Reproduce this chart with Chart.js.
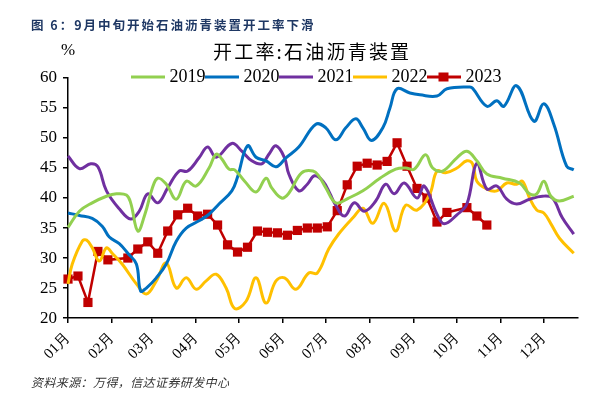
<!DOCTYPE html>
<html>
<head>
<meta charset="utf-8">
<script src="https://cdn.jsdelivr.net/npm/chart.js@4.4.0/dist/chart.umd.min.js"></script>
<style>
  body { margin: 0; background: #fff; }
  #wrap { position: relative; width: 603px; height: 399px; overflow: hidden; }
  #chart { position: absolute; left: 0; top: 0; }
  .txt { position: absolute; white-space: nowrap; }
  #header { left: 31px; top: 15px; font: bold 12.5px "Noto Sans CJK SC"; color: #1F3864; letter-spacing: 2px; }
  #title { left: 213px; top: 40px; font: 19px "Noto Sans CJK SC"; line-height: 22px; color: #000; letter-spacing: 2.2px; }
  #unit { left: 61px; top: 40px; font: 17px "Liberation Serif"; color: #000; }
  #footer { left: 31px; top: 373px; font: italic 12px "Noto Sans CJK SC"; color: #333; letter-spacing: 0.4px; }
</style>
</head>
<body>
<div id="wrap">
  <canvas id="chart" width="603" height="399"></canvas>
  <div class="txt" id="header">图 6：9月中旬开始石油沥青装置开工率下滑</div>
  <div class="txt" id="title">开工率:石油沥青装置</div>
  <div class="txt" id="unit">%</div>
  <div class="txt" id="footer">资料来源：万得，信达证券研发中心</div>
</div>
<script>
// month ticks (day of year)
const monthStarts = [0, 31, 59, 90, 120, 151, 181, 212, 243, 273, 304, 334];
const monthLabels = ['01月', '02月', '03月', '04月', '05月', '06月', '07月', '08月', '09月', '10月', '11月', '12月'];

// series: day of year / value (%)
const days2019 = [0, 8, 17, 27, 34, 41, 44, 49, 54, 59, 63, 69, 76, 83, 90, 99, 104, 108, 113, 117, 124, 132, 139, 143, 150, 155, 164, 172, 176, 181, 188, 197, 207, 219, 230, 237, 243, 251, 256, 263, 273, 280, 287, 294, 305, 317, 324, 329, 334, 339, 345, 355];
const vals2019 = [35.1, 37.8, 39.2, 40.3, 40.7, 40.5, 39.2, 34.5, 37.3, 41.5, 43.3, 42.3, 39.8, 42.8, 42.0, 45.0, 47.3, 46.5, 44.8, 44.7, 42.8, 41.0, 43.3, 41.7, 40.0, 40.8, 44.2, 44.5, 43.7, 41.7, 39.2, 40.0, 41.2, 43.3, 44.8, 45.0, 44.8, 47.2, 45.0, 44.5, 46.7, 47.8, 46.2, 44.0, 43.3, 42.5, 40.7, 40.7, 42.8, 40.3, 39.5, 40.3];

const days2020 = [0, 8, 17, 24, 29, 36, 42, 48, 51, 55, 62, 69, 76, 83, 92, 99, 106, 115, 119, 126, 132, 139, 146, 153, 162, 174, 181, 188, 195, 202, 207, 213, 221, 226, 231, 240, 247, 259, 266, 282, 284, 294, 301, 306, 315, 327, 334, 341, 350, 355];
const vals2020 = [37.5, 37.1, 36.6, 35.3, 33.5, 32.4, 30.8, 29.0, 24.5, 25.0, 26.7, 29.0, 32.8, 35.0, 36.2, 37.3, 39.0, 41.2, 43.5, 48.7, 46.8, 46.2, 45.2, 46.7, 48.5, 52.3, 51.7, 49.7, 51.7, 53.2, 51.7, 49.6, 51.7, 55.0, 58.2, 57.5, 57.2, 57.0, 58.2, 58.5, 58.3, 55.3, 56.2, 55.3, 58.7, 52.8, 55.7, 52.3, 45.3, 44.7];

const days2021 = [0, 8, 16, 21, 27, 36, 44, 50, 56, 63, 70, 78, 84, 92, 98, 104, 115, 122, 129, 136, 141, 146, 152, 155, 162, 168, 173, 179, 184, 187, 194, 201, 208, 216, 223, 229, 236, 245, 250, 259, 264, 273, 280, 287, 294, 301, 308, 315, 324, 333, 340, 347, 355];
const vals2021 = [47.0, 44.9, 45.7, 45.2, 41.2, 38.2, 36.5, 37.8, 40.7, 39.2, 41.7, 44.5, 44.5, 46.7, 48.5, 46.8, 49.1, 47.8, 46.2, 45.7, 47.3, 48.7, 46.7, 44.0, 41.2, 42.3, 43.7, 42.8, 40.7, 39.2, 37.0, 39.2, 37.8, 39.5, 42.3, 40.7, 42.5, 40.0, 42.0, 37.3, 35.7, 37.2, 39.0, 45.8, 41.5, 42.0, 39.8, 39.0, 39.8, 40.3, 40.0, 36.7, 34.0];

const days2022 = [0, 3, 10, 13, 17, 22, 27, 31, 38, 48, 55, 62, 69, 76, 83, 90, 97, 104, 111, 117, 125, 132, 139, 146, 152, 160, 169, 175, 183, 190, 200, 207, 214, 222, 230, 237, 245, 254, 259, 265, 273, 280, 284, 287, 294, 301, 308, 315, 319, 324, 329, 334, 339, 345, 355];
const vals2022 = [25.7, 29.0, 32.8, 33.0, 31.7, 29.5, 31.7, 30.8, 29.0, 25.7, 24.0, 26.2, 29.2, 25.0, 26.7, 24.8, 26.2, 27.3, 25.0, 21.6, 22.8, 26.7, 22.5, 26.2, 26.7, 24.8, 27.5, 27.5, 31.5, 34.0, 36.7, 38.3, 35.8, 39.1, 34.5, 38.8, 38.0, 40.7, 44.5, 44.2, 45.0, 46.2, 45.7, 42.8, 41.5, 41.2, 42.5, 42.3, 42.8, 40.0, 38.0, 37.5, 35.7, 33.3, 30.8];

const days2023 = [0, 7, 14, 21, 28, 42, 49, 56, 63, 70, 77, 84, 91, 98, 105, 112, 119, 126, 133, 140, 147, 154, 161, 168, 175, 182, 189, 196, 203, 210, 217, 224, 231, 238, 245, 252, 259, 266, 280, 287, 294];
const vals2023 = [26.5, 27.0, 22.6, 31.1, 29.7, 30.0, 31.5, 32.7, 30.8, 34.5, 37.2, 38.3, 37.0, 37.3, 35.5, 32.2, 31.0, 31.8, 34.5, 34.3, 34.2, 33.8, 34.6, 35.0, 35.0, 35.2, 37.9, 42.2, 45.3, 45.8, 45.5, 46.1, 49.2, 45.3, 41.6, 40.0, 36.0, 37.6, 38.4, 37.0, 35.5];

const yearLabels = ['2019', '2020', '2021', '2022', '2023'];
const yearColors = ['#92D050', '#0070C0', '#7030A0', '#FFC000', '#C00000'];

const toPoints = (xs, ys) => xs.map((x, i) => ({ x: x, y: ys[i] }));

// legend swatches: a line, plus a square for 2023
const legendIcons = yearColors.map((c, i) => {
  const cv = document.createElement('canvas');
  cv.width = 34;
  cv.height = 12;
  const g = cv.getContext('2d');
  g.strokeStyle = c;
  g.lineWidth = 3;
  g.beginPath();
  g.moveTo(0, 6);
  g.lineTo(34, 6);
  g.stroke();
  if (i === 4) {
    g.fillStyle = c;
    g.fillRect(12, 1.5, 10, 9);
  }
  return cv;
});

// the legend sits on top of the plot area in the original, so push it down after layout
const legendOverlap = {
  id: 'legendOverlap',
  afterLayout(chart) {
    chart.legend.top += 18;
    chart.legend.bottom += 18;
    chart.legend.left += 12;
    chart.legend.right += 12;
  },
};

const smoothLine = (label, xs, ys, color) => ({
  label: label,
  data: toPoints(xs, ys),
  borderColor: color,
  backgroundColor: color,
  borderWidth: 3,
  pointRadius: 0,
  tension: 0.4,
  clip: false,
});

const datasets = [
  smoothLine(yearLabels[0], days2019, vals2019, yearColors[0]),
  smoothLine(yearLabels[1], days2020, vals2020, yearColors[1]),
  smoothLine(yearLabels[2], days2021, vals2021, yearColors[2]),
  smoothLine(yearLabels[3], days2022, vals2022, yearColors[3]),
  {
    label: yearLabels[4],
    data: toPoints(days2023, vals2023),
    borderColor: yearColors[4],
    backgroundColor: yearColors[4],
    borderWidth: 2.5,
    pointStyle: 'rect',
    pointRadius: 6.5,
    pointBorderWidth: 0,
    tension: 0,
    clip: false,
  },
];

new Chart(document.getElementById('chart').getContext('2d'), {
  type: 'line',
  data: { datasets: datasets },
  plugins: [legendOverlap],
  options: {
    responsive: false,
    animation: false,
    layout: { padding: { left: 34, right: 25, top: 47, bottom: 30 } },
    plugins: {
      tooltip: { enabled: false },
      legend: {
        position: 'top',
        labels: {
          color: '#000',
          font: { family: 'Liberation Serif', size: 18 },
          usePointStyle: true,
          pointStyleWidth: 26,
          padding: 3,
          generateLabels: (chart) => {
            const items = Chart.defaults.plugins.legend.labels.generateLabels(chart);
            items.forEach((it, i) => { it.pointStyle = legendIcons[i]; });
            return items;
          },
        },
      },
    },
    scales: {
      x: {
        type: 'linear',
        min: 0,
        max: 358,
        afterBuildTicks: (axis) => {
          axis.ticks = monthStarts.map(v => ({ value: v }));
        },
        ticks: {
          autoSkip: false,
          minRotation: 45,
          maxRotation: 45,
          padding: 6,
          color: '#000',
          font: { family: 'Liberation Serif', size: 15 },
          callback: (value, index) => monthLabels[index],
        },
        grid: { drawOnChartArea: false, drawTicks: true, tickLength: 5, color: '#000', lineWidth: 1.5 },
        border: { color: '#000', width: 1.5 },
      },
      y: {
        min: 20,
        max: 60,
        ticks: {
          stepSize: 5,
          padding: 6,
          color: '#000',
          font: { family: 'Liberation Serif', size: 17 },
        },
        grid: { drawOnChartArea: false, drawTicks: true, tickLength: 5, color: '#000', lineWidth: 1.5 },
        border: { color: '#000', width: 1.5 },
      },
    },
  },
});
</script>
</body>
</html>
